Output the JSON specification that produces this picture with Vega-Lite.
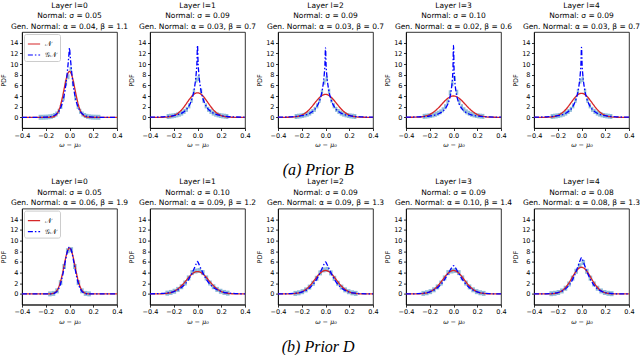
{
"$schema":"https://vega.github.io/schema/vega-lite/v6.json",
"padding":{"left":0,"top":1,"right":0,"bottom":0},
"background":"white",
"config":{
 "font":"DejaVu Sans",
 "view":{"stroke":"black","strokeWidth":0.8},
 "axis":{"grid":false,"labelFontSize":6.5,"labelColor":"#000","tickColor":"#000","domainColor":"#000","domainWidth":0.8,"tickWidth":0.8,"tickSize":2.5,"labelPadding":1.5,"titleFontSize":6.5,"titleFontWeight":"normal","titleColor":"#000","minExtent":0,"labelFlush":false,"labelOverlap":false,"labelBound":false},
 "axisX":{"titleFont":"DejaVu Serif","titleFontStyle":"italic","titlePadding":3},
 "axisY":{"titlePadding":3},
 "title":{"fontSize":7.5,"fontWeight":"normal","lineHeight":10.5,"offset":2,"frame":"group","color":"#000","anchor":"middle"},
 "legend":{"orient":"top-left","offset":2,"padding":3,"strokeColor":"#cccccc","fillColor":"white","cornerRadius":2,"labelFontSize":7,"labelFont":"DejaVu Serif","symbolType":"stroke","symbolSize":150,"symbolStrokeWidth":1.2,"rowPadding":1,"labelOffset":4}
},
"datasets":{
"hist":[
{"p":"B0","l":-0.26,"r":-0.24,"h":0.008},{"p":"B0","l":-0.24,"r":-0.22,"h":0.015},{"p":"B0","l":-0.22,"r":-0.2,"h":0.03},{"p":"B0","l":-0.2,"r":-0.18,"h":0.05},{"p":"B0","l":-0.18,"r":-0.16,"h":0.1},{"p":"B0","l":-0.16,"r":-0.14,"h":0.18},{"p":"B0","l":-0.14,"r":-0.12,"h":0.34},{"p":"B0","l":-0.12,"r":-0.1,"h":0.62},{"p":"B0","l":-0.1,"r":-0.08,"h":1.13},{"p":"B0","l":-0.08,"r":-0.06,"h":2.04},{"p":"B0","l":-0.06,"r":-0.04,"h":3.62},{"p":"B0","l":-0.04,"r":-0.02,"h":6.4},{"p":"B0","l":-0.02,"r":0,"h":7.6},
{"p":"B0","l":0,"r":0.02,"h":9.0},{"p":"B0","l":0.02,"r":0.04,"h":6.3},{"p":"B0","l":0.04,"r":0.06,"h":3.62},{"p":"B0","l":0.06,"r":0.08,"h":2.04},{"p":"B0","l":0.08,"r":0.1,"h":1.13},{"p":"B0","l":0.1,"r":0.12,"h":0.62},{"p":"B0","l":0.12,"r":0.14,"h":0.34},{"p":"B0","l":0.14,"r":0.16,"h":0.18},{"p":"B0","l":0.16,"r":0.18,"h":0.1},{"p":"B0","l":0.18,"r":0.2,"h":0.05},{"p":"B0","l":0.2,"r":0.22,"h":0.03},{"p":"B0","l":0.22,"r":0.24,"h":0.015},{"p":"B0","l":0.24,"r":0.26,"h":0.008},
{"p":"B1","l":-0.26,"r":-0.24,"h":0.16},{"p":"B1","l":-0.24,"r":-0.22,"h":0.21},{"p":"B1","l":-0.22,"r":-0.2,"h":0.27},{"p":"B1","l":-0.2,"r":-0.18,"h":0.35},{"p":"B1","l":-0.18,"r":-0.16,"h":0.46},{"p":"B1","l":-0.16,"r":-0.14,"h":0.6},{"p":"B1","l":-0.14,"r":-0.12,"h":0.8},{"p":"B1","l":-0.12,"r":-0.1,"h":1.1},{"p":"B1","l":-0.1,"r":-0.08,"h":1.5},{"p":"B1","l":-0.08,"r":-0.06,"h":2.15},{"p":"B1","l":-0.06,"r":-0.04,"h":3.2},{"p":"B1","l":-0.04,"r":-0.02,"h":4.8},{"p":"B1","l":-0.02,"r":0,"h":7.0},
{"p":"B1","l":0,"r":0.02,"h":7.3},{"p":"B1","l":0.02,"r":0.04,"h":4.9},{"p":"B1","l":0.04,"r":0.06,"h":3.2},{"p":"B1","l":0.06,"r":0.08,"h":2.15},{"p":"B1","l":0.08,"r":0.1,"h":1.5},{"p":"B1","l":0.1,"r":0.12,"h":1.1},{"p":"B1","l":0.12,"r":0.14,"h":0.8},{"p":"B1","l":0.14,"r":0.16,"h":0.6},{"p":"B1","l":0.16,"r":0.18,"h":0.46},{"p":"B1","l":0.18,"r":0.2,"h":0.35},{"p":"B1","l":0.2,"r":0.22,"h":0.27},{"p":"B1","l":0.22,"r":0.24,"h":0.21},{"p":"B1","l":0.24,"r":0.26,"h":0.16},
{"p":"B2","l":-0.26,"r":-0.24,"h":0.16},{"p":"B2","l":-0.24,"r":-0.22,"h":0.21},{"p":"B2","l":-0.22,"r":-0.2,"h":0.27},{"p":"B2","l":-0.2,"r":-0.18,"h":0.35},{"p":"B2","l":-0.18,"r":-0.16,"h":0.46},{"p":"B2","l":-0.16,"r":-0.14,"h":0.6},{"p":"B2","l":-0.14,"r":-0.12,"h":0.8},{"p":"B2","l":-0.12,"r":-0.1,"h":1.1},{"p":"B2","l":-0.1,"r":-0.08,"h":1.5},{"p":"B2","l":-0.08,"r":-0.06,"h":2.15},{"p":"B2","l":-0.06,"r":-0.04,"h":3.2},{"p":"B2","l":-0.04,"r":-0.02,"h":4.7},{"p":"B2","l":-0.02,"r":0,"h":6.6},
{"p":"B2","l":0,"r":0.02,"h":7.2},{"p":"B2","l":0.02,"r":0.04,"h":4.9},{"p":"B2","l":0.04,"r":0.06,"h":3.2},{"p":"B2","l":0.06,"r":0.08,"h":2.15},{"p":"B2","l":0.08,"r":0.1,"h":1.5},{"p":"B2","l":0.1,"r":0.12,"h":1.1},{"p":"B2","l":0.12,"r":0.14,"h":0.8},{"p":"B2","l":0.14,"r":0.16,"h":0.6},{"p":"B2","l":0.16,"r":0.18,"h":0.46},{"p":"B2","l":0.18,"r":0.2,"h":0.35},{"p":"B2","l":0.2,"r":0.22,"h":0.27},{"p":"B2","l":0.22,"r":0.24,"h":0.21},{"p":"B2","l":0.24,"r":0.26,"h":0.16},
{"p":"B3","l":-0.26,"r":-0.24,"h":0.18},{"p":"B3","l":-0.24,"r":-0.22,"h":0.22},{"p":"B3","l":-0.22,"r":-0.2,"h":0.28},{"p":"B3","l":-0.2,"r":-0.18,"h":0.35},{"p":"B3","l":-0.18,"r":-0.16,"h":0.45},{"p":"B3","l":-0.16,"r":-0.14,"h":0.58},{"p":"B3","l":-0.14,"r":-0.12,"h":0.77},{"p":"B3","l":-0.12,"r":-0.1,"h":1.03},{"p":"B3","l":-0.1,"r":-0.08,"h":1.41},{"p":"B3","l":-0.08,"r":-0.06,"h":1.99},{"p":"B3","l":-0.06,"r":-0.04,"h":2.93},{"p":"B3","l":-0.04,"r":-0.02,"h":4.6},{"p":"B3","l":-0.02,"r":0,"h":6.3},
{"p":"B3","l":0,"r":0.02,"h":7.3},{"p":"B3","l":0.02,"r":0.04,"h":4.7},{"p":"B3","l":0.04,"r":0.06,"h":2.93},{"p":"B3","l":0.06,"r":0.08,"h":1.99},{"p":"B3","l":0.08,"r":0.1,"h":1.41},{"p":"B3","l":0.1,"r":0.12,"h":1.03},{"p":"B3","l":0.12,"r":0.14,"h":0.77},{"p":"B3","l":0.14,"r":0.16,"h":0.58},{"p":"B3","l":0.16,"r":0.18,"h":0.45},{"p":"B3","l":0.18,"r":0.2,"h":0.35},{"p":"B3","l":0.2,"r":0.22,"h":0.28},{"p":"B3","l":0.22,"r":0.24,"h":0.22},{"p":"B3","l":0.24,"r":0.26,"h":0.18},
{"p":"B4","l":-0.26,"r":-0.24,"h":0.16},{"p":"B4","l":-0.24,"r":-0.22,"h":0.21},{"p":"B4","l":-0.22,"r":-0.2,"h":0.27},{"p":"B4","l":-0.2,"r":-0.18,"h":0.35},{"p":"B4","l":-0.18,"r":-0.16,"h":0.46},{"p":"B4","l":-0.16,"r":-0.14,"h":0.6},{"p":"B4","l":-0.14,"r":-0.12,"h":0.8},{"p":"B4","l":-0.12,"r":-0.1,"h":1.1},{"p":"B4","l":-0.1,"r":-0.08,"h":1.5},{"p":"B4","l":-0.08,"r":-0.06,"h":2.15},{"p":"B4","l":-0.06,"r":-0.04,"h":3.2},{"p":"B4","l":-0.04,"r":-0.02,"h":4.8},{"p":"B4","l":-0.02,"r":0,"h":6.8},
{"p":"B4","l":0,"r":0.02,"h":7.1},{"p":"B4","l":0.02,"r":0.04,"h":4.9},{"p":"B4","l":0.04,"r":0.06,"h":3.2},{"p":"B4","l":0.06,"r":0.08,"h":2.15},{"p":"B4","l":0.08,"r":0.1,"h":1.5},{"p":"B4","l":0.1,"r":0.12,"h":1.1},{"p":"B4","l":0.12,"r":0.14,"h":0.8},{"p":"B4","l":0.14,"r":0.16,"h":0.6},{"p":"B4","l":0.16,"r":0.18,"h":0.46},{"p":"B4","l":0.18,"r":0.2,"h":0.35},{"p":"B4","l":0.2,"r":0.22,"h":0.27},{"p":"B4","l":0.22,"r":0.24,"h":0.21},{"p":"B4","l":0.24,"r":0.26,"h":0.16},
{"p":"D0","l":-0.18,"r":-0.15,"h":0.012},{"p":"D0","l":-0.15,"r":-0.12,"h":0.1},{"p":"D0","l":-0.12,"r":-0.09,"h":0.58},{"p":"D0","l":-0.09,"r":-0.06,"h":2.12},{"p":"D0","l":-0.06,"r":-0.03,"h":5.15},{"p":"D0","l":-0.03,"r":0,"h":8.1},
{"p":"D0","l":0,"r":0.03,"h":8.3},{"p":"D0","l":0.03,"r":0.06,"h":5.15},{"p":"D0","l":0.06,"r":0.09,"h":2.12},{"p":"D0","l":0.09,"r":0.12,"h":0.58},{"p":"D0","l":0.12,"r":0.15,"h":0.1},{"p":"D0","l":0.15,"r":0.18,"h":0.012},
{"p":"D1","l":-0.27,"r":-0.24,"h":0.15},{"p":"D1","l":-0.24,"r":-0.21,"h":0.28},{"p":"D1","l":-0.21,"r":-0.18,"h":0.5},{"p":"D1","l":-0.18,"r":-0.15,"h":0.85},{"p":"D1","l":-0.15,"r":-0.12,"h":1.35},{"p":"D1","l":-0.12,"r":-0.09,"h":2.05},{"p":"D1","l":-0.09,"r":-0.06,"h":3.0},{"p":"D1","l":-0.06,"r":-0.03,"h":4.0},{"p":"D1","l":-0.03,"r":0,"h":4.3},
{"p":"D1","l":0,"r":0.03,"h":4.4},{"p":"D1","l":0.03,"r":0.06,"h":4.0},{"p":"D1","l":0.06,"r":0.09,"h":3.0},{"p":"D1","l":0.09,"r":0.12,"h":2.05},{"p":"D1","l":0.12,"r":0.15,"h":1.35},{"p":"D1","l":0.15,"r":0.18,"h":0.85},{"p":"D1","l":0.18,"r":0.21,"h":0.5},{"p":"D1","l":0.21,"r":0.24,"h":0.28},{"p":"D1","l":0.24,"r":0.27,"h":0.15},
{"p":"D2","l":-0.27,"r":-0.24,"h":0.1},{"p":"D2","l":-0.24,"r":-0.21,"h":0.21},{"p":"D2","l":-0.21,"r":-0.18,"h":0.42},{"p":"D2","l":-0.18,"r":-0.15,"h":0.76},{"p":"D2","l":-0.15,"r":-0.12,"h":1.28},{"p":"D2","l":-0.12,"r":-0.09,"h":2.0},{"p":"D2","l":-0.09,"r":-0.06,"h":2.93},{"p":"D2","l":-0.06,"r":-0.03,"h":3.95},{"p":"D2","l":-0.03,"r":0,"h":4.5},
{"p":"D2","l":0,"r":0.03,"h":4.6},{"p":"D2","l":0.03,"r":0.06,"h":3.95},{"p":"D2","l":0.06,"r":0.09,"h":2.93},{"p":"D2","l":0.09,"r":0.12,"h":2.0},{"p":"D2","l":0.12,"r":0.15,"h":1.28},{"p":"D2","l":0.15,"r":0.18,"h":0.76},{"p":"D2","l":0.18,"r":0.21,"h":0.42},{"p":"D2","l":0.21,"r":0.24,"h":0.21},{"p":"D2","l":0.24,"r":0.27,"h":0.1},
{"p":"D3","l":-0.27,"r":-0.24,"h":0.1},{"p":"D3","l":-0.24,"r":-0.21,"h":0.22},{"p":"D3","l":-0.21,"r":-0.18,"h":0.43},{"p":"D3","l":-0.18,"r":-0.15,"h":0.78},{"p":"D3","l":-0.15,"r":-0.12,"h":1.31},{"p":"D3","l":-0.12,"r":-0.09,"h":2.04},{"p":"D3","l":-0.09,"r":-0.06,"h":3.0},{"p":"D3","l":-0.06,"r":-0.03,"h":4.0},{"p":"D3","l":-0.03,"r":0,"h":4.3},
{"p":"D3","l":0,"r":0.03,"h":4.4},{"p":"D3","l":0.03,"r":0.06,"h":4.0},{"p":"D3","l":0.06,"r":0.09,"h":3.0},{"p":"D3","l":0.09,"r":0.12,"h":2.04},{"p":"D3","l":0.12,"r":0.15,"h":1.31},{"p":"D3","l":0.15,"r":0.18,"h":0.78},{"p":"D3","l":0.18,"r":0.21,"h":0.43},{"p":"D3","l":0.21,"r":0.24,"h":0.22},{"p":"D3","l":0.24,"r":0.27,"h":0.1},
{"p":"D4","l":-0.27,"r":-0.24,"h":0.05},{"p":"D4","l":-0.24,"r":-0.21,"h":0.12},{"p":"D4","l":-0.21,"r":-0.18,"h":0.27},{"p":"D4","l":-0.18,"r":-0.15,"h":0.56},{"p":"D4","l":-0.15,"r":-0.12,"h":1.07},{"p":"D4","l":-0.12,"r":-0.09,"h":1.87},{"p":"D4","l":-0.09,"r":-0.06,"h":2.96},{"p":"D4","l":-0.06,"r":-0.03,"h":4.25},{"p":"D4","l":-0.03,"r":0,"h":5.3},
{"p":"D4","l":0,"r":0.03,"h":5.9},{"p":"D4","l":0.03,"r":0.06,"h":4.25},{"p":"D4","l":0.06,"r":0.09,"h":2.96},{"p":"D4","l":0.09,"r":0.12,"h":1.87},{"p":"D4","l":0.12,"r":0.15,"h":1.07},{"p":"D4","l":0.15,"r":0.18,"h":0.56},{"p":"D4","l":0.18,"r":0.21,"h":0.27},{"p":"D4","l":0.21,"r":0.24,"h":0.12},{"p":"D4","l":0.24,"r":0.27,"h":0.05}
],
"curve":[
{"p":"B0","x":-0.4,"a":0,"b":0},{"p":"B0","x":-0.3,"a":0,"b":0.001},{"p":"B0","x":-0.25,"a":0,"b":0.007},{"p":"B0","x":-0.2,"a":0.001,"b":0.037},{"p":"B0","x":-0.15,"a":0.046,"b":0.18},{"p":"B0","x":-0.125,"a":0.23,"b":0.39},{"p":"B0","x":-0.1,"a":0.84,"b":0.84},{"p":"B0","x":-0.08,"a":1.95,"b":1.52},{"p":"B0","x":-0.06,"a":3.73,"b":2.73},{"p":"B0","x":-0.045,"a":5.37,"b":4.17},{"p":"B0","x":-0.03,"a":6.98,"b":6.27},{"p":"B0","x":-0.02,"a":7.84,"b":8.15},{"p":"B0","x":-0.01,"a":8.4,"b":10.46},{"p":"B0","x":-0.005,"a":8.55,"b":11.75},
{"p":"B0","x":0,"a":8.6,"b":13.0},{"p":"B0","x":0.005,"a":8.55,"b":11.75},{"p":"B0","x":0.01,"a":8.4,"b":10.46},{"p":"B0","x":0.02,"a":7.84,"b":8.15},{"p":"B0","x":0.03,"a":6.98,"b":6.27},{"p":"B0","x":0.045,"a":5.37,"b":4.17},{"p":"B0","x":0.06,"a":3.73,"b":2.73},{"p":"B0","x":0.08,"a":1.95,"b":1.52},{"p":"B0","x":0.1,"a":0.84,"b":0.84},{"p":"B0","x":0.125,"a":0.23,"b":0.39},{"p":"B0","x":0.15,"a":0.046,"b":0.18},{"p":"B0","x":0.2,"a":0.001,"b":0.037},{"p":"B0","x":0.25,"a":0,"b":0.007},{"p":"B0","x":0.3,"a":0,"b":0.001},{"p":"B0","x":0.4,"a":0,"b":0},
{"p":"B1","x":-0.4,"a":0,"b":0.03},{"p":"B1","x":-0.3,"a":0.012,"b":0.09},{"p":"B1","x":-0.25,"a":0.072,"b":0.16},{"p":"B1","x":-0.2,"a":0.32,"b":0.31},{"p":"B1","x":-0.15,"a":1.03,"b":0.62},{"p":"B1","x":-0.125,"a":1.63,"b":0.89},{"p":"B1","x":-0.1,"a":2.37,"b":1.32},{"p":"B1","x":-0.08,"a":3.01,"b":1.85},{"p":"B1","x":-0.06,"a":3.62,"b":2.66},{"p":"B1","x":-0.045,"a":4.02,"b":3.58},{"p":"B1","x":-0.03,"a":4.33,"b":4.97},{"p":"B1","x":-0.02,"a":4.48,"b":6.36},{"p":"B1","x":-0.01,"a":4.57,"b":8.49},{"p":"B1","x":-0.005,"a":4.59,"b":10.15},
{"p":"B1","x":0,"a":4.6,"b":13.5},{"p":"B1","x":0.005,"a":4.59,"b":10.15},{"p":"B1","x":0.01,"a":4.57,"b":8.49},{"p":"B1","x":0.02,"a":4.48,"b":6.36},{"p":"B1","x":0.03,"a":4.33,"b":4.97},{"p":"B1","x":0.045,"a":4.02,"b":3.58},{"p":"B1","x":0.06,"a":3.62,"b":2.66},{"p":"B1","x":0.08,"a":3.01,"b":1.85},{"p":"B1","x":0.1,"a":2.37,"b":1.32},{"p":"B1","x":0.125,"a":1.63,"b":0.89},{"p":"B1","x":0.15,"a":1.03,"b":0.62},{"p":"B1","x":0.2,"a":0.32,"b":0.31},{"p":"B1","x":0.25,"a":0.072,"b":0.16},{"p":"B1","x":0.3,"a":0.012,"b":0.09},{"p":"B1","x":0.4,"a":0,"b":0.03},
{"p":"B2","x":-0.4,"a":0,"b":0.03},{"p":"B2","x":-0.3,"a":0.023,"b":0.09},{"p":"B2","x":-0.25,"a":0.114,"b":0.16},{"p":"B2","x":-0.2,"a":0.42,"b":0.3},{"p":"B2","x":-0.15,"a":1.16,"b":0.59},{"p":"B2","x":-0.125,"a":1.74,"b":0.86},{"p":"B2","x":-0.1,"a":2.41,"b":1.27},{"p":"B2","x":-0.08,"a":2.97,"b":1.78},{"p":"B2","x":-0.06,"a":3.49,"b":2.56},{"p":"B2","x":-0.045,"a":3.82,"b":3.45},{"p":"B2","x":-0.03,"a":4.08,"b":4.78},{"p":"B2","x":-0.02,"a":4.2,"b":6.12},{"p":"B2","x":-0.01,"a":4.28,"b":8.18},{"p":"B2","x":-0.005,"a":4.29,"b":9.77},
{"p":"B2","x":0,"a":4.3,"b":13.0},{"p":"B2","x":0.005,"a":4.29,"b":9.77},{"p":"B2","x":0.01,"a":4.28,"b":8.18},{"p":"B2","x":0.02,"a":4.2,"b":6.12},{"p":"B2","x":0.03,"a":4.08,"b":4.78},{"p":"B2","x":0.045,"a":3.82,"b":3.45},{"p":"B2","x":0.06,"a":3.49,"b":2.56},{"p":"B2","x":0.08,"a":2.97,"b":1.78},{"p":"B2","x":0.1,"a":2.41,"b":1.27},{"p":"B2","x":0.125,"a":1.74,"b":0.86},{"p":"B2","x":0.15,"a":1.16,"b":0.59},{"p":"B2","x":0.2,"a":0.42,"b":0.3},{"p":"B2","x":0.25,"a":0.114,"b":0.16},{"p":"B2","x":0.3,"a":0.023,"b":0.09},{"p":"B2","x":0.4,"a":0,"b":0.03},
{"p":"B3","x":-0.4,"a":0.001,"b":0.032},{"p":"B3","x":-0.3,"a":0.043,"b":0.084},{"p":"B3","x":-0.25,"a":0.17,"b":0.14},{"p":"B3","x":-0.2,"a":0.53,"b":0.25},{"p":"B3","x":-0.15,"a":1.29,"b":0.47},{"p":"B3","x":-0.125,"a":1.82,"b":0.67},{"p":"B3","x":-0.1,"a":2.42,"b":0.98},{"p":"B3","x":-0.08,"a":2.9,"b":1.36},{"p":"B3","x":-0.06,"a":3.34,"b":1.95},{"p":"B3","x":-0.045,"a":3.61,"b":2.65},{"p":"B3","x":-0.03,"a":3.82,"b":3.77},{"p":"B3","x":-0.02,"a":3.92,"b":4.97},{"p":"B3","x":-0.01,"a":3.98,"b":6.98},{"p":"B3","x":-0.005,"a":4.0,"b":8.74},
{"p":"B3","x":0,"a":4.0,"b":13.5},{"p":"B3","x":0.005,"a":4.0,"b":8.74},{"p":"B3","x":0.01,"a":3.98,"b":6.98},{"p":"B3","x":0.02,"a":3.92,"b":4.97},{"p":"B3","x":0.03,"a":3.82,"b":3.77},{"p":"B3","x":0.045,"a":3.61,"b":2.65},{"p":"B3","x":0.06,"a":3.34,"b":1.95},{"p":"B3","x":0.08,"a":2.9,"b":1.36},{"p":"B3","x":0.1,"a":2.42,"b":0.98},{"p":"B3","x":0.125,"a":1.82,"b":0.67},{"p":"B3","x":0.15,"a":1.29,"b":0.47},{"p":"B3","x":0.2,"a":0.53,"b":0.25},{"p":"B3","x":0.25,"a":0.17,"b":0.14},{"p":"B3","x":0.3,"a":0.043,"b":0.084},{"p":"B3","x":0.4,"a":0.001,"b":0.032},
{"p":"B4","x":-0.4,"a":0,"b":0.03},{"p":"B4","x":-0.3,"a":0.015,"b":0.09},{"p":"B4","x":-0.25,"a":0.084,"b":0.16},{"p":"B4","x":-0.2,"a":0.35,"b":0.3},{"p":"B4","x":-0.15,"a":1.07,"b":0.6},{"p":"B4","x":-0.125,"a":1.66,"b":0.87},{"p":"B4","x":-0.1,"a":2.38,"b":1.28},{"p":"B4","x":-0.08,"a":2.99,"b":1.8},{"p":"B4","x":-0.06,"a":3.58,"b":2.58},{"p":"B4","x":-0.045,"a":3.96,"b":3.47},{"p":"B4","x":-0.03,"a":4.25,"b":4.82},{"p":"B4","x":-0.02,"a":4.39,"b":6.17},{"p":"B4","x":-0.01,"a":4.47,"b":8.24},{"p":"B4","x":-0.005,"a":4.49,"b":9.85},
{"p":"B4","x":0,"a":4.5,"b":13.1},{"p":"B4","x":0.005,"a":4.49,"b":9.85},{"p":"B4","x":0.01,"a":4.47,"b":8.24},{"p":"B4","x":0.02,"a":4.39,"b":6.17},{"p":"B4","x":0.03,"a":4.25,"b":4.82},{"p":"B4","x":0.045,"a":3.96,"b":3.47},{"p":"B4","x":0.06,"a":3.58,"b":2.58},{"p":"B4","x":0.08,"a":2.99,"b":1.8},{"p":"B4","x":0.1,"a":2.38,"b":1.28},{"p":"B4","x":0.125,"a":1.66,"b":0.87},{"p":"B4","x":0.15,"a":1.07,"b":0.6},{"p":"B4","x":0.2,"a":0.35,"b":0.3},{"p":"B4","x":0.25,"a":0.084,"b":0.16},{"p":"B4","x":0.3,"a":0.015,"b":0.09},{"p":"B4","x":0.4,"a":0,"b":0.03},
{"p":"D0","x":-0.4,"a":0,"b":0},{"p":"D0","x":-0.3,"a":0,"b":0},{"p":"D0","x":-0.25,"a":0,"b":0},{"p":"D0","x":-0.2,"a":0.001,"b":0.001},{"p":"D0","x":-0.15,"a":0.046,"b":0.029},{"p":"D0","x":-0.125,"a":0.23,"b":0.16},{"p":"D0","x":-0.1,"a":0.84,"b":0.63},{"p":"D0","x":-0.08,"a":1.95,"b":1.56},{"p":"D0","x":-0.06,"a":3.73,"b":3.24},{"p":"D0","x":-0.045,"a":5.37,"b":4.93},{"p":"D0","x":-0.03,"a":6.98,"b":6.73},{"p":"D0","x":-0.02,"a":7.84,"b":7.77},{"p":"D0","x":-0.01,"a":8.4,"b":8.51},{"p":"D0","x":-0.005,"a":8.55,"b":8.72},
{"p":"D0","x":0,"a":8.6,"b":8.8},{"p":"D0","x":0.005,"a":8.55,"b":8.72},{"p":"D0","x":0.01,"a":8.4,"b":8.51},{"p":"D0","x":0.02,"a":7.84,"b":7.77},{"p":"D0","x":0.03,"a":6.98,"b":6.73},{"p":"D0","x":0.045,"a":5.37,"b":4.93},{"p":"D0","x":0.06,"a":3.73,"b":3.24},{"p":"D0","x":0.08,"a":1.95,"b":1.56},{"p":"D0","x":0.1,"a":0.84,"b":0.63},{"p":"D0","x":0.125,"a":0.23,"b":0.16},{"p":"D0","x":0.15,"a":0.046,"b":0.029},{"p":"D0","x":0.2,"a":0.001,"b":0.001},{"p":"D0","x":0.25,"a":0,"b":0},{"p":"D0","x":0.3,"a":0,"b":0},{"p":"D0","x":0.4,"a":0,"b":0},
{"p":"D1","x":-0.4,"a":0.001,"b":0.015},{"p":"D1","x":-0.3,"a":0.029,"b":0.088},{"p":"D1","x":-0.25,"a":0.13,"b":0.2},{"p":"D1","x":-0.2,"a":0.46,"b":0.45},{"p":"D1","x":-0.15,"a":1.21,"b":0.96},{"p":"D1","x":-0.125,"a":1.77,"b":1.38},{"p":"D1","x":-0.1,"a":2.41,"b":1.96},{"p":"D1","x":-0.08,"a":2.95,"b":2.56},{"p":"D1","x":-0.06,"a":3.44,"b":3.3},{"p":"D1","x":-0.045,"a":3.75,"b":3.95},{"p":"D1","x":-0.03,"a":4.0,"b":4.67},{"p":"D1","x":-0.02,"a":4.11,"b":5.17},{"p":"D1","x":-0.01,"a":4.18,"b":5.68},{"p":"D1","x":-0.005,"a":4.19,"b":5.91},
{"p":"D1","x":0,"a":4.2,"b":6.1},{"p":"D1","x":0.005,"a":4.19,"b":5.91},{"p":"D1","x":0.01,"a":4.18,"b":5.68},{"p":"D1","x":0.02,"a":4.11,"b":5.17},{"p":"D1","x":0.03,"a":4.0,"b":4.67},{"p":"D1","x":0.045,"a":3.75,"b":3.95},{"p":"D1","x":0.06,"a":3.44,"b":3.3},{"p":"D1","x":0.08,"a":2.95,"b":2.56},{"p":"D1","x":0.1,"a":2.41,"b":1.96},{"p":"D1","x":0.125,"a":1.77,"b":1.38},{"p":"D1","x":0.15,"a":1.21,"b":0.96},{"p":"D1","x":0.2,"a":0.46,"b":0.45},{"p":"D1","x":0.25,"a":0.13,"b":0.2},{"p":"D1","x":0.3,"a":0.029,"b":0.088},{"p":"D1","x":0.4,"a":0.001,"b":0.015},
{"p":"D2","x":-0.4,"a":0,"b":0.006},{"p":"D2","x":-0.3,"a":0.019,"b":0.05},{"p":"D2","x":-0.25,"a":0.099,"b":0.14},{"p":"D2","x":-0.2,"a":0.39,"b":0.36},{"p":"D2","x":-0.15,"a":1.12,"b":0.86},{"p":"D2","x":-0.125,"a":1.7,"b":1.3},{"p":"D2","x":-0.1,"a":2.4,"b":1.91},{"p":"D2","x":-0.08,"a":2.98,"b":2.54},{"p":"D2","x":-0.06,"a":3.54,"b":3.33},{"p":"D2","x":-0.045,"a":3.89,"b":4.0},{"p":"D2","x":-0.03,"a":4.17,"b":4.72},{"p":"D2","x":-0.02,"a":4.29,"b":5.21},{"p":"D2","x":-0.01,"a":4.37,"b":5.66},{"p":"D2","x":-0.005,"a":4.39,"b":5.86},
{"p":"D2","x":0,"a":4.4,"b":6.0},{"p":"D2","x":0.005,"a":4.39,"b":5.86},{"p":"D2","x":0.01,"a":4.37,"b":5.66},{"p":"D2","x":0.02,"a":4.29,"b":5.21},{"p":"D2","x":0.03,"a":4.17,"b":4.72},{"p":"D2","x":0.045,"a":3.89,"b":4.0},{"p":"D2","x":0.06,"a":3.54,"b":3.33},{"p":"D2","x":0.08,"a":2.98,"b":2.54},{"p":"D2","x":0.1,"a":2.4,"b":1.91},{"p":"D2","x":0.125,"a":1.7,"b":1.3},{"p":"D2","x":0.15,"a":1.12,"b":0.86},{"p":"D2","x":0.2,"a":0.39,"b":0.36},{"p":"D2","x":0.25,"a":0.099,"b":0.14},{"p":"D2","x":0.3,"a":0.019,"b":0.05},{"p":"D2","x":0.4,"a":0,"b":0.006},
{"p":"D3","x":-0.4,"a":0,"b":0.005},{"p":"D3","x":-0.3,"a":0.019,"b":0.05},{"p":"D3","x":-0.25,"a":0.099,"b":0.14},{"p":"D3","x":-0.2,"a":0.39,"b":0.38},{"p":"D3","x":-0.15,"a":1.12,"b":0.91},{"p":"D3","x":-0.125,"a":1.7,"b":1.35},{"p":"D3","x":-0.1,"a":2.4,"b":1.95},{"p":"D3","x":-0.08,"a":2.98,"b":2.55},{"p":"D3","x":-0.06,"a":3.54,"b":3.25},{"p":"D3","x":-0.045,"a":3.89,"b":3.82},{"p":"D3","x":-0.03,"a":4.17,"b":4.4},{"p":"D3","x":-0.02,"a":4.29,"b":4.77},{"p":"D3","x":-0.01,"a":4.37,"b":5.09},{"p":"D3","x":-0.005,"a":4.39,"b":5.22},
{"p":"D3","x":0,"a":4.4,"b":5.3},{"p":"D3","x":0.005,"a":4.39,"b":5.22},{"p":"D3","x":0.01,"a":4.37,"b":5.09},{"p":"D3","x":0.02,"a":4.29,"b":4.77},{"p":"D3","x":0.03,"a":4.17,"b":4.4},{"p":"D3","x":0.045,"a":3.89,"b":3.82},{"p":"D3","x":0.06,"a":3.54,"b":3.25},{"p":"D3","x":0.08,"a":2.98,"b":2.55},{"p":"D3","x":0.1,"a":2.4,"b":1.95},{"p":"D3","x":0.125,"a":1.7,"b":1.35},{"p":"D3","x":0.15,"a":1.12,"b":0.91},{"p":"D3","x":0.2,"a":0.39,"b":0.38},{"p":"D3","x":0.25,"a":0.099,"b":0.14},{"p":"D3","x":0.3,"a":0.019,"b":0.05},{"p":"D3","x":0.4,"a":0,"b":0.005},
{"p":"D4","x":-0.4,"a":0,"b":0.002},{"p":"D4","x":-0.3,"a":0.004,"b":0.026},{"p":"D4","x":-0.25,"a":0.037,"b":0.084},{"p":"D4","x":-0.2,"a":0.22,"b":0.25},{"p":"D4","x":-0.15,"a":0.85,"b":0.71},{"p":"D4","x":-0.125,"a":1.47,"b":1.14},{"p":"D4","x":-0.1,"a":2.28,"b":1.79},{"p":"D4","x":-0.08,"a":3.02,"b":2.5},{"p":"D4","x":-0.06,"a":3.77,"b":3.42},{"p":"D4","x":-0.045,"a":4.26,"b":4.24},{"p":"D4","x":-0.03,"a":4.66,"b":5.14},{"p":"D4","x":-0.02,"a":4.85,"b":5.77},{"p":"D4","x":-0.01,"a":4.96,"b":6.36},{"p":"D4","x":-0.005,"a":4.99,"b":6.62},
{"p":"D4","x":0,"a":5.0,"b":6.8},{"p":"D4","x":0.005,"a":4.99,"b":6.62},{"p":"D4","x":0.01,"a":4.96,"b":6.36},{"p":"D4","x":0.02,"a":4.85,"b":5.77},{"p":"D4","x":0.03,"a":4.66,"b":5.14},{"p":"D4","x":0.045,"a":4.26,"b":4.24},{"p":"D4","x":0.06,"a":3.77,"b":3.42},{"p":"D4","x":0.08,"a":3.02,"b":2.5},{"p":"D4","x":0.1,"a":2.28,"b":1.79},{"p":"D4","x":0.125,"a":1.47,"b":1.14},{"p":"D4","x":0.15,"a":0.85,"b":0.71},{"p":"D4","x":0.2,"a":0.22,"b":0.25},{"p":"D4","x":0.25,"a":0.037,"b":0.084},{"p":"D4","x":0.3,"a":0.004,"b":0.026},{"p":"D4","x":0.4,"a":0,"b":0.002}
]
},
"columns":5,
"spacing":{"row":80.6,"column":33},
"bounds":"flush",
"resolve":{"scale":{"color":"independent","strokeDash":"independent"}},
"concat":[
 {"width":95,"height":96,"title":{"text":["Layer l=0","Normal: σ = 0.05","Gen. Normal: α = 0.04, β = 1.1"]},"resolve":{"axis":{"x":"independent","y":"independent"}},"layer":[
  {"data":{"name":"hist"},"transform":[{"filter":"datum.p=='B0'"}],"mark":{"type":"bar","color":"#1f77b4","opacity":0.5},"encoding":{"x":{"field":"l","type":"quantitative","scale":{"domain":[-0.4,0.4]},"axis":{"values":[-0.4,-0.2,0,0.2,0.4],"format":".1f","title":"ω − μ₀","labelOverlap":false}},"x2":{"field":"r"},"y":{"field":"h","type":"quantitative","scale":{"domain":[0,15]},"axis":{"values":[0,2,4,6,8,10,12,14],"format":"d","title":"PDF","labelOverlap":false}}}},
  {"data":{"name":"curve"},"transform":[{"filter":"datum.p=='B0'"},{"fold":["a","b"],"as":["k","v"]}],"mark":{"type":"line","strokeWidth":1.3,"interpolate":"monotone"},"encoding":{"x":{"field":"x","type":"quantitative","axis":null},"y":{"field":"v","type":"quantitative","axis":null},"color":{"field":"k","type":"nominal","scale":{"domain":["a","b"],"range":["#d62728","#0000ff"]},"legend":{"title":null,"labelExpr":"datum.value=='a'?'𝒩':'𝒢𝒩'"}},"strokeDash":{"field":"k","type":"nominal","scale":{"domain":["a","b"],"range":[[1,0],[5,2,1.5,2]]},"legend":{"title":null,"labelExpr":"datum.value=='a'?'𝒩':'𝒢𝒩'"}}}}
 ]},
 {"width":95,"height":96,"title":{"text":["Layer l=1","Normal: σ = 0.09","Gen. Normal: α = 0.03, β = 0.7"]},"resolve":{"axis":{"x":"independent","y":"independent"}},"layer":[
  {"data":{"name":"hist"},"transform":[{"filter":"datum.p=='B1'"}],"mark":{"type":"bar","color":"#1f77b4","opacity":0.5},"encoding":{"x":{"field":"l","type":"quantitative","scale":{"domain":[-0.4,0.4]},"axis":{"values":[-0.4,-0.2,0,0.2,0.4],"format":".1f","title":"ω − μ₀","labelOverlap":false}},"x2":{"field":"r"},"y":{"field":"h","type":"quantitative","scale":{"domain":[0,15]},"axis":{"values":[0,2,4,6,8,10,12,14],"format":"d","title":"PDF","labelOverlap":false}}}},
  {"data":{"name":"curve"},"transform":[{"filter":"datum.p=='B1'"},{"fold":["a","b"],"as":["k","v"]}],"mark":{"type":"line","strokeWidth":1.3,"interpolate":"monotone"},"encoding":{"x":{"field":"x","type":"quantitative","axis":null},"y":{"field":"v","type":"quantitative","axis":null},"color":{"field":"k","type":"nominal","scale":{"domain":["a","b"],"range":["#d62728","#0000ff"]},"legend":null},"strokeDash":{"field":"k","type":"nominal","scale":{"domain":["a","b"],"range":[[1,0],[5,2,1.5,2]]},"legend":null}}}
 ]},
 {"width":95,"height":96,"title":{"text":["Layer l=2","Normal: σ = 0.09","Gen. Normal: α = 0.03, β = 0.7"]},"resolve":{"axis":{"x":"independent","y":"independent"}},"layer":[
  {"data":{"name":"hist"},"transform":[{"filter":"datum.p=='B2'"}],"mark":{"type":"bar","color":"#1f77b4","opacity":0.5},"encoding":{"x":{"field":"l","type":"quantitative","scale":{"domain":[-0.4,0.4]},"axis":{"values":[-0.4,-0.2,0,0.2,0.4],"format":".1f","title":"ω − μ₀","labelOverlap":false}},"x2":{"field":"r"},"y":{"field":"h","type":"quantitative","scale":{"domain":[0,15]},"axis":{"values":[0,2,4,6,8,10,12,14],"format":"d","title":"PDF","labelOverlap":false}}}},
  {"data":{"name":"curve"},"transform":[{"filter":"datum.p=='B2'"},{"fold":["a","b"],"as":["k","v"]}],"mark":{"type":"line","strokeWidth":1.3,"interpolate":"monotone"},"encoding":{"x":{"field":"x","type":"quantitative","axis":{"title":"(a) Prior B","orient":"bottom","labels":false,"ticks":false,"domain":false,"titleFont":"Liberation Serif","titleFontStyle":"italic","titleFontSize":16,"titleX":39.7,"titleY":41.5,"titleBaseline":"middle","titleAlign":"center"}},"y":{"field":"v","type":"quantitative","axis":null},"color":{"field":"k","type":"nominal","scale":{"domain":["a","b"],"range":["#d62728","#0000ff"]},"legend":null},"strokeDash":{"field":"k","type":"nominal","scale":{"domain":["a","b"],"range":[[1,0],[5,2,1.5,2]]},"legend":null}}}
 ]},
 {"width":95,"height":96,"title":{"text":["Layer l=3","Normal: σ = 0.10","Gen. Normal: α = 0.02, β = 0.6"]},"resolve":{"axis":{"x":"independent","y":"independent"}},"layer":[
  {"data":{"name":"hist"},"transform":[{"filter":"datum.p=='B3'"}],"mark":{"type":"bar","color":"#1f77b4","opacity":0.5},"encoding":{"x":{"field":"l","type":"quantitative","scale":{"domain":[-0.4,0.4]},"axis":{"values":[-0.4,-0.2,0,0.2,0.4],"format":".1f","title":"ω − μ₀","labelOverlap":false}},"x2":{"field":"r"},"y":{"field":"h","type":"quantitative","scale":{"domain":[0,15]},"axis":{"values":[0,2,4,6,8,10,12,14],"format":"d","title":"PDF","labelOverlap":false}}}},
  {"data":{"name":"curve"},"transform":[{"filter":"datum.p=='B3'"},{"fold":["a","b"],"as":["k","v"]}],"mark":{"type":"line","strokeWidth":1.3,"interpolate":"monotone"},"encoding":{"x":{"field":"x","type":"quantitative","axis":null},"y":{"field":"v","type":"quantitative","axis":null},"color":{"field":"k","type":"nominal","scale":{"domain":["a","b"],"range":["#d62728","#0000ff"]},"legend":null},"strokeDash":{"field":"k","type":"nominal","scale":{"domain":["a","b"],"range":[[1,0],[5,2,1.5,2]]},"legend":null}}}
 ]},
 {"width":95,"height":96,"title":{"text":["Layer l=4","Normal: σ = 0.09","Gen. Normal: α = 0.03, β = 0.7"]},"resolve":{"axis":{"x":"independent","y":"independent"}},"layer":[
  {"data":{"name":"hist"},"transform":[{"filter":"datum.p=='B4'"}],"mark":{"type":"bar","color":"#1f77b4","opacity":0.5},"encoding":{"x":{"field":"l","type":"quantitative","scale":{"domain":[-0.4,0.4]},"axis":{"values":[-0.4,-0.2,0,0.2,0.4],"format":".1f","title":"ω − μ₀","labelOverlap":false}},"x2":{"field":"r"},"y":{"field":"h","type":"quantitative","scale":{"domain":[0,15]},"axis":{"values":[0,2,4,6,8,10,12,14],"format":"d","title":"PDF","labelOverlap":false}}}},
  {"data":{"name":"curve"},"transform":[{"filter":"datum.p=='B4'"},{"fold":["a","b"],"as":["k","v"]}],"mark":{"type":"line","strokeWidth":1.3,"interpolate":"monotone"},"encoding":{"x":{"field":"x","type":"quantitative","axis":null},"y":{"field":"v","type":"quantitative","axis":null},"color":{"field":"k","type":"nominal","scale":{"domain":["a","b"],"range":["#d62728","#0000ff"]},"legend":null},"strokeDash":{"field":"k","type":"nominal","scale":{"domain":["a","b"],"range":[[1,0],[5,2,1.5,2]]},"legend":null}}}
 ]},
 {"width":95,"height":96,"title":{"text":["Layer l=0","Normal: σ = 0.05","Gen. Normal: α = 0.06, β = 1.9"]},"resolve":{"axis":{"x":"independent","y":"independent"}},"layer":[
  {"data":{"name":"hist"},"transform":[{"filter":"datum.p=='D0'"}],"mark":{"type":"bar","color":"#1f77b4","opacity":0.5},"encoding":{"x":{"field":"l","type":"quantitative","scale":{"domain":[-0.4,0.4]},"axis":{"values":[-0.4,-0.2,0,0.2,0.4],"format":".1f","title":"ω − μ₀","labelOverlap":false}},"x2":{"field":"r"},"y":{"field":"h","type":"quantitative","scale":{"domain":[0,15]},"axis":{"values":[0,2,4,6,8,10,12,14],"format":"d","title":"PDF","labelOverlap":false}}}},
  {"data":{"name":"curve"},"transform":[{"filter":"datum.p=='D0'"},{"fold":["a","b"],"as":["k","v"]}],"mark":{"type":"line","strokeWidth":1.3,"interpolate":"monotone"},"encoding":{"x":{"field":"x","type":"quantitative","axis":null},"y":{"field":"v","type":"quantitative","axis":null},"color":{"field":"k","type":"nominal","scale":{"domain":["a","b"],"range":["#d62728","#0000ff"]},"legend":{"title":null,"labelExpr":"datum.value=='a'?'𝒩':'𝒢𝒩'"}},"strokeDash":{"field":"k","type":"nominal","scale":{"domain":["a","b"],"range":[[1,0],[5,2,1.5,2]]},"legend":{"title":null,"labelExpr":"datum.value=='a'?'𝒩':'𝒢𝒩'"}}}}
 ]},
 {"width":95,"height":96,"title":{"text":["Layer l=1","Normal: σ = 0.10","Gen. Normal: α = 0.09, β = 1.2"]},"resolve":{"axis":{"x":"independent","y":"independent"}},"layer":[
  {"data":{"name":"hist"},"transform":[{"filter":"datum.p=='D1'"}],"mark":{"type":"bar","color":"#1f77b4","opacity":0.5},"encoding":{"x":{"field":"l","type":"quantitative","scale":{"domain":[-0.4,0.4]},"axis":{"values":[-0.4,-0.2,0,0.2,0.4],"format":".1f","title":"ω − μ₀","labelOverlap":false}},"x2":{"field":"r"},"y":{"field":"h","type":"quantitative","scale":{"domain":[0,15]},"axis":{"values":[0,2,4,6,8,10,12,14],"format":"d","title":"PDF","labelOverlap":false}}}},
  {"data":{"name":"curve"},"transform":[{"filter":"datum.p=='D1'"},{"fold":["a","b"],"as":["k","v"]}],"mark":{"type":"line","strokeWidth":1.3,"interpolate":"monotone"},"encoding":{"x":{"field":"x","type":"quantitative","axis":null},"y":{"field":"v","type":"quantitative","axis":null},"color":{"field":"k","type":"nominal","scale":{"domain":["a","b"],"range":["#d62728","#0000ff"]},"legend":null},"strokeDash":{"field":"k","type":"nominal","scale":{"domain":["a","b"],"range":[[1,0],[5,2,1.5,2]]},"legend":null}}}
 ]},
 {"width":95,"height":96,"title":{"text":["Layer l=2","Normal: σ = 0.09","Gen. Normal: α = 0.09, β = 1.3"]},"resolve":{"axis":{"x":"independent","y":"independent"}},"layer":[
  {"data":{"name":"hist"},"transform":[{"filter":"datum.p=='D2'"}],"mark":{"type":"bar","color":"#1f77b4","opacity":0.5},"encoding":{"x":{"field":"l","type":"quantitative","scale":{"domain":[-0.4,0.4]},"axis":{"values":[-0.4,-0.2,0,0.2,0.4],"format":".1f","title":"ω − μ₀","labelOverlap":false}},"x2":{"field":"r"},"y":{"field":"h","type":"quantitative","scale":{"domain":[0,15]},"axis":{"values":[0,2,4,6,8,10,12,14],"format":"d","title":"PDF","labelOverlap":false}}}},
  {"data":{"name":"curve"},"transform":[{"filter":"datum.p=='D2'"},{"fold":["a","b"],"as":["k","v"]}],"mark":{"type":"line","strokeWidth":1.3,"interpolate":"monotone"},"encoding":{"x":{"field":"x","type":"quantitative","axis":{"title":"(b) Prior D","orient":"bottom","labels":false,"ticks":false,"domain":false,"titleFont":"Liberation Serif","titleFontStyle":"italic","titleFontSize":16,"titleX":39.7,"titleY":41.5,"titleBaseline":"middle","titleAlign":"center"}},"y":{"field":"v","type":"quantitative","axis":null},"color":{"field":"k","type":"nominal","scale":{"domain":["a","b"],"range":["#d62728","#0000ff"]},"legend":null},"strokeDash":{"field":"k","type":"nominal","scale":{"domain":["a","b"],"range":[[1,0],[5,2,1.5,2]]},"legend":null}}}
 ]},
 {"width":95,"height":96,"title":{"text":["Layer l=3","Normal: σ = 0.09","Gen. Normal: α = 0.10, β = 1.4"]},"resolve":{"axis":{"x":"independent","y":"independent"}},"layer":[
  {"data":{"name":"hist"},"transform":[{"filter":"datum.p=='D3'"}],"mark":{"type":"bar","color":"#1f77b4","opacity":0.5},"encoding":{"x":{"field":"l","type":"quantitative","scale":{"domain":[-0.4,0.4]},"axis":{"values":[-0.4,-0.2,0,0.2,0.4],"format":".1f","title":"ω − μ₀","labelOverlap":false}},"x2":{"field":"r"},"y":{"field":"h","type":"quantitative","scale":{"domain":[0,15]},"axis":{"values":[0,2,4,6,8,10,12,14],"format":"d","title":"PDF","labelOverlap":false}}}},
  {"data":{"name":"curve"},"transform":[{"filter":"datum.p=='D3'"},{"fold":["a","b"],"as":["k","v"]}],"mark":{"type":"line","strokeWidth":1.3,"interpolate":"monotone"},"encoding":{"x":{"field":"x","type":"quantitative","axis":null},"y":{"field":"v","type":"quantitative","axis":null},"color":{"field":"k","type":"nominal","scale":{"domain":["a","b"],"range":["#d62728","#0000ff"]},"legend":null},"strokeDash":{"field":"k","type":"nominal","scale":{"domain":["a","b"],"range":[[1,0],[5,2,1.5,2]]},"legend":null}}}
 ]},
 {"width":95,"height":96,"title":{"text":["Layer l=4","Normal: σ = 0.08","Gen. Normal: α = 0.08, β = 1.3"]},"resolve":{"axis":{"x":"independent","y":"independent"}},"layer":[
  {"data":{"name":"hist"},"transform":[{"filter":"datum.p=='D4'"}],"mark":{"type":"bar","color":"#1f77b4","opacity":0.5},"encoding":{"x":{"field":"l","type":"quantitative","scale":{"domain":[-0.4,0.4]},"axis":{"values":[-0.4,-0.2,0,0.2,0.4],"format":".1f","title":"ω − μ₀","labelOverlap":false}},"x2":{"field":"r"},"y":{"field":"h","type":"quantitative","scale":{"domain":[0,15]},"axis":{"values":[0,2,4,6,8,10,12,14],"format":"d","title":"PDF","labelOverlap":false}}}},
  {"data":{"name":"curve"},"transform":[{"filter":"datum.p=='D4'"},{"fold":["a","b"],"as":["k","v"]}],"mark":{"type":"line","strokeWidth":1.3,"interpolate":"monotone"},"encoding":{"x":{"field":"x","type":"quantitative","axis":null},"y":{"field":"v","type":"quantitative","axis":null},"color":{"field":"k","type":"nominal","scale":{"domain":["a","b"],"range":["#d62728","#0000ff"]},"legend":null},"strokeDash":{"field":"k","type":"nominal","scale":{"domain":["a","b"],"range":[[1,0],[5,2,1.5,2]]},"legend":null}}}
 ]}
]
}
